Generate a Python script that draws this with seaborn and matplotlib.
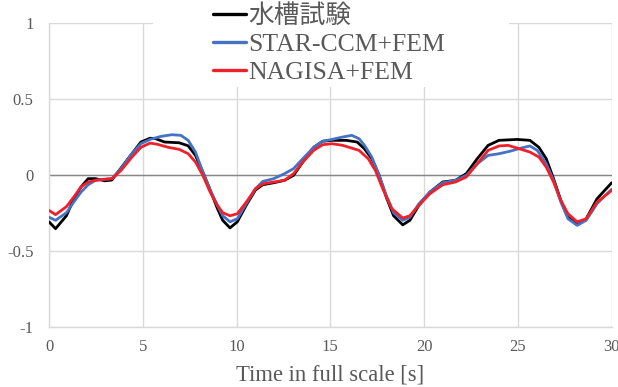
import numpy as np
import pandas as pd
import matplotlib
matplotlib.use("Agg")
import matplotlib.pyplot as plt
import seaborn as sns
from matplotlib.patches import Rectangle

# ---- data ----
series_names = ["水槽試験", "STAR-CCM+FEM", "NAGISA+FEM"]

t_exp = [0.00, 0.35, 0.93, 1.32, 1.71, 2.09, 2.48, 2.97, 3.35, 3.84, 4.42, 4.90, 5.39, 5.68,
         6.16, 6.94, 7.42, 7.81, 8.20, 8.59, 8.97, 9.26, 9.65, 10.04, 10.52, 11.01, 11.40,
         11.98, 12.56, 13.04, 13.53, 14.11, 14.59, 15.08, 15.85, 16.43, 16.82, 17.21, 17.60,
         17.98, 18.37, 18.86, 19.24, 19.73, 20.31, 20.99, 21.67, 22.25, 22.83, 23.41, 23.99,
         24.96, 25.64, 26.12, 26.51, 26.90, 27.29, 27.67, 28.16, 28.64, 29.22, 30.00]
v_exp = [-0.31, -0.355, -0.27, -0.16, -0.08, -0.026, -0.026, -0.04, -0.035, 0.044, 0.138, 0.215,
         0.24, 0.237, 0.215, 0.21, 0.19, 0.127, 0.018, -0.10, -0.22, -0.30, -0.35, -0.31, -0.20,
         -0.10, -0.066, -0.053, -0.037, -0.004, 0.083, 0.18, 0.22, 0.226, 0.226, 0.215, 0.17,
         0.105, -0.004, -0.147, -0.27, -0.33, -0.30, -0.20, -0.114, -0.048, -0.037, 0.007, 0.105,
         0.193, 0.226, 0.232, 0.226, 0.18, 0.105, -0.026, -0.17, -0.28, -0.33, -0.29, -0.158,
         -0.053]

t_star = [0.00, 0.35, 0.93, 1.32, 1.71, 2.09, 2.48, 2.97, 3.35, 3.84, 4.42, 4.90, 5.39, 5.97,
          6.55, 7.03, 7.42, 7.81, 8.20, 8.59, 8.97, 9.26, 9.65, 10.04, 10.52, 11.01, 11.40,
          11.98, 12.56, 13.04, 13.53, 14.11, 14.59, 15.08, 15.66, 16.14, 16.53, 16.82, 17.21,
          17.60, 17.98, 18.37, 18.86, 19.24, 19.73, 20.31, 20.99, 21.67, 22.25, 22.83, 23.41,
          23.99, 24.57, 25.16, 25.64, 26.03, 26.51, 26.90, 27.29, 27.67, 28.16, 28.64, 29.22,
          30.00]
v_star = [-0.28, -0.30, -0.25, -0.18, -0.114, -0.066, -0.037, -0.03, -0.026, 0.04, 0.138, 0.204,
          0.232, 0.252, 0.263, 0.259, 0.226, 0.149, 0.018, -0.10, -0.20, -0.27, -0.31, -0.29,
          -0.19, -0.092, -0.044, -0.026, 0.007, 0.04, 0.105, 0.18, 0.22, 0.232, 0.248, 0.259,
          0.237, 0.193, 0.116, -0.004, -0.136, -0.25, -0.30, -0.28, -0.19, -0.114, -0.053,
          -0.037, -0.004, 0.072, 0.127, 0.138, 0.154, 0.175, 0.189, 0.16, 0.072, -0.037, -0.18,
          -0.29, -0.333, -0.30, -0.19, -0.096]

t_nag = [0.00, 0.35, 0.93, 1.32, 1.71, 2.09, 2.48, 2.97, 3.35, 3.84, 4.42, 4.90, 5.39, 5.78,
         6.36, 6.94, 7.42, 7.81, 8.20, 8.59, 8.97, 9.26, 9.65, 10.04, 10.52, 11.01, 11.40,
         11.98, 12.56, 13.04, 13.53, 14.11, 14.59, 15.08, 15.66, 16.14, 16.53, 17.02, 17.40,
         17.79, 18.28, 18.86, 19.24, 19.73, 20.31, 20.99, 21.67, 22.25, 22.83, 23.41, 23.99,
         24.48, 24.96, 25.64, 26.12, 26.51, 26.90, 27.29, 27.67, 28.16, 28.64, 29.22, 30.00]
v_nag = [-0.235, -0.263, -0.21, -0.147, -0.08, -0.048, -0.037, -0.03, -0.026, 0.028, 0.116,
         0.18, 0.208, 0.20, 0.18, 0.167, 0.138, 0.083, -0.004, -0.114, -0.20, -0.25, -0.27,
         -0.257, -0.18, -0.092, -0.06, -0.048, -0.037, 0.007, 0.083, 0.16, 0.197, 0.204, 0.193,
         0.175, 0.16, 0.105, 0.028, -0.092, -0.224, -0.285, -0.27, -0.20, -0.125, -0.066,
         -0.048, -0.015, 0.072, 0.16, 0.189, 0.193, 0.175, 0.149, 0.116, 0.05, -0.048, -0.17,
         -0.257, -0.31, -0.29, -0.18, -0.103]

x_ticks = [0, 5, 10, 15, 20, 25, 30]
y_ticks = [-1, -0.5, 0, 0.5, 1]
y_tick_labels = ["-1", "-0.5", "0", "0.5", "1"]
x_label = "Time in full scale [s]"

colors = {"水槽試験": "#000000", "STAR-CCM+FEM": "#4472C4", "NAGISA+FEM": "#F0202A"}

df = pd.concat([
    pd.DataFrame({"t": t_exp, "v": v_exp, "series": series_names[0]}),
    pd.DataFrame({"t": t_star, "v": v_star, "series": series_names[1]}),
    pd.DataFrame({"t": t_nag, "v": v_nag, "series": series_names[2]}),
], ignore_index=True)

# ---- style ----
sns.set_theme(style="white")
serif = ["Liberation Serif", "Noto Sans CJK JP", "DejaVu Sans"]
plt.rcParams["font.family"] = serif
txt_color = "#595959"
grid_color = "#D9D9D9"

fig = plt.figure(figsize=(6.18, 3.87), dpi=100)
ax = fig.add_axes([49 / 618, 1 - 326.7 / 387, (611.7 - 49) / 618, (326.7 - 22.7) / 387])

sns.lineplot(data=df, x="t", y="v", hue="series", hue_order=series_names, palette=colors,
             sort=False, estimator=None, linewidth=2.0, legend=False, ax=ax, zorder=3)
line_handles = list(ax.get_lines())
for ln in line_handles:
    ln.set_solid_joinstyle("round")
    ln.set_solid_capstyle("round")

ax.set_xlim(0, 30)
ax.set_ylim(-1, 1)
ax.set_xticks(x_ticks)
ax.set_yticks(y_ticks)
ax.set_yticklabels(y_tick_labels)
ax.grid(True, color=grid_color, linewidth=1.0, zorder=0)
ax.set_axisbelow(True)
ax.axhline(0, color="#868686", linewidth=1.0, zorder=2)

for s in ["top", "right"]:
    ax.spines[s].set_visible(False)
for s in ["left", "bottom"]:
    ax.spines[s].set_color(grid_color)
    ax.spines[s].set_linewidth(1.0)

ax.tick_params(axis="both", length=0, labelsize=12, labelcolor=txt_color)
ax.tick_params(axis="y", pad=11)
ax.tick_params(axis="x", pad=8.5)
ax.set_xlabel(x_label, fontsize=16.3, color=txt_color, labelpad=7)
ax.set_ylabel("")

# legend background (white box hiding gridlines)
ax.add_patch(Rectangle((0.185, 0.7885), 0.6325, 0.25, transform=ax.transAxes,
                       facecolor="white", edgecolor="none", zorder=1.5, clip_on=False))

leg = fig.legend(handles=line_handles, labels=series_names, loc="upper left",
                 bbox_to_anchor=(213 / 618, 0.99), bbox_transform=fig.transFigure,
                 frameon=False, fontsize=18.5, handlelength=1.28, handletextpad=0.1,
                 labelspacing=0.2, borderpad=0.0, borderaxespad=0.0)
for txt in leg.get_texts():
    txt.set_color(txt_color)
for ln in leg.get_lines():
    ln.set_linewidth(2.4)

fig.savefig("out.png", dpi=100)
